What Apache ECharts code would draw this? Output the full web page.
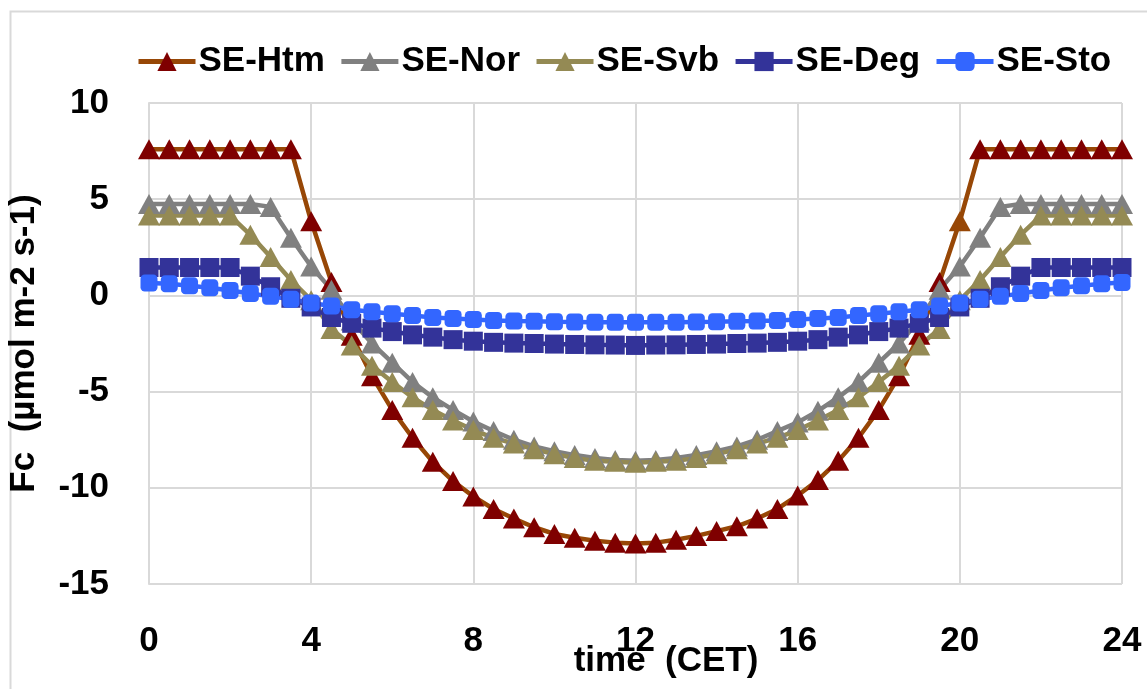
<!DOCTYPE html>
<html>
<head>
<meta charset="utf-8">
<script src="https://cdn.jsdelivr.net/npm/echarts@6/dist/echarts.min.js"></script>
<style>
html,body{margin:0;padding:0;background:#fff;}
#chart{width:1147px;height:689px;}
</style>
</head>
<body>
<div id="chart"></div>
<script>
// half-hourly time axis (CET)
var hours = [0,0.5,1,1.5,2,2.5,3,3.5,4,4.5,5,5.5,6,6.5,7,7.5,8,8.5,9,9.5,10,10.5,11,11.5,12,
             12.5,13,13.5,14,14.5,15,15.5,16,16.5,17,17.5,18,18.5,19,19.5,20,20.5,21,21.5,22,22.5,23,23.5,24];

var seHtm = [7.6,7.6,7.6,7.6,7.6,7.6,7.6,7.6,3.85,0.7,-2.1,-4.2,-5.95,-7.4,-8.65,-9.65,-10.45,-11.1,-11.6,-12.05,-12.4,-12.6,-12.75,-12.85,-12.9,
             -12.85,-12.7,-12.5,-12.25,-12.0,-11.6,-11.1,-10.4,-9.6,-8.6,-7.4,-5.95,-4.2,-2.05,0.7,3.85,7.6,7.6,7.6,7.6,7.6,7.6,7.6,7.6];

var seNor = [4.75,4.75,4.75,4.75,4.75,4.75,4.6,3.0,1.5,0.3,-1.3,-2.5,-3.5,-4.5,-5.3,-5.95,-6.55,-7.05,-7.5,-7.85,-8.1,-8.3,-8.45,-8.55,-8.6,
             -8.55,-8.45,-8.3,-8.1,-7.85,-7.5,-7.05,-6.6,-6.0,-5.3,-4.5,-3.5,-2.5,-1.3,0.3,1.5,3.0,4.6,4.75,4.75,4.75,4.75,4.75,4.75];

var seSvb = [4.15,4.15,4.15,4.15,4.15,3.15,2.0,0.8,-0.25,-1.75,-2.6,-3.65,-4.5,-5.3,-5.95,-6.5,-7.0,-7.4,-7.7,-8.0,-8.25,-8.45,-8.6,-8.65,-8.7,
             -8.65,-8.6,-8.45,-8.25,-8.0,-7.7,-7.4,-7.0,-6.5,-5.95,-5.3,-4.5,-3.65,-2.6,-1.75,-0.25,0.8,2.0,3.15,4.15,4.15,4.15,4.15,4.15];

var seDeg = [1.45,1.45,1.45,1.45,1.45,1.0,0.45,-0.15,-0.6,-1.15,-1.45,-1.7,-1.88,-2.05,-2.17,-2.3,-2.38,-2.44,-2.48,-2.5,-2.53,-2.55,-2.57,-2.58,-2.6,
             -2.58,-2.57,-2.55,-2.53,-2.5,-2.48,-2.44,-2.38,-2.3,-2.17,-2.05,-1.88,-1.7,-1.45,-1.15,-0.6,-0.15,0.45,1.0,1.45,1.45,1.45,1.45,1.45];

var seSto = [0.65,0.6,0.5,0.4,0.25,0.1,-0.05,-0.2,-0.4,-0.55,-0.75,-0.85,-0.95,-1.05,-1.15,-1.2,-1.25,-1.3,-1.33,-1.35,-1.37,-1.38,-1.4,-1.4,-1.4,
             -1.4,-1.4,-1.38,-1.37,-1.35,-1.33,-1.3,-1.25,-1.2,-1.15,-1.05,-0.95,-0.85,-0.75,-0.55,-0.4,-0.2,-0.05,0.1,0.25,0.4,0.5,0.6,0.67];

var seriesNames = ['SE-Htm','SE-Nor','SE-Svb','SE-Deg','SE-Sto'];
var xTicks = ['0','4','8','12','16','20','24'];

function pairs(vals){ return hours.map(function(h,i){ return [h, vals[i]]; }); }

var FONT = '"Liberation Sans", Arial, sans-serif';

var htmData = pairs(seHtm).map(function(p){
  if (p[0] === 20) return {value: p, itemStyle: {color: '#974706'}};
  return p;
});

var chart = echarts.init(document.getElementById('chart'), null, {renderer:'canvas'});
chart.setOption({
  backgroundColor: '#ffffff',
  animation: false,
  graphic: [{
    type: 'rect', left: 8, top: 9, silent: true, z: -10,
    shape: {x: 0, y: 0, width: 1160, height: 700},
    style: {fill: 'none', stroke: '#d9d9d9', lineWidth: 2}
  }],
  legend: {
    left: 136, top: 44, width: 1011, padding: 0,
    itemWidth: 57, itemHeight: 24, itemGap: 14,
    lineStyle: {width: 5},
    textStyle: {fontFamily: FONT, fontWeight: 'bold', fontSize: 35, color: '#000', padding: [0,0,0,-2]},
    data: seriesNames
  },
  grid: {left: 149, right: 25, top: 103, bottom: 105, outerBoundsMode: 'none', containLabel: false},
  xAxis: {
    type: 'value', min: 0, max: 24, interval: 4,
    name: 'time  (CET)', nameLocation: 'middle', nameGap: 60, nameMoveOverlap: false,
    nameTextStyle: {fontFamily: FONT, fontWeight: 'bold', fontSize: 35, color: '#000', padding: [0,0,0,61]},
    axisLine: {show: true, lineStyle: {color: '#d9d9d9', width: 2}},
    axisTick: {show: false},
    splitLine: {show: true, lineStyle: {color: '#d9d9d9', width: 2}},
    axisLabel: {
      margin: 40, fontFamily: FONT, fontWeight: 'bold', fontSize: 35, color: '#000',
      formatter: function(v){ var s = String(v); return xTicks.indexOf(s) >= 0 ? s : ''; }
    }
  },
  yAxis: {
    type: 'value', min: -15, max: 10, interval: 5,
    name: 'Fc  (µmol m-2 s-1)', nameLocation: 'middle', nameGap: 107, nameMoveOverlap: false,
    nameTextStyle: {fontFamily: FONT, fontWeight: 'bold', fontSize: 35, color: '#000'},
    axisLine: {show: true, lineStyle: {color: '#d9d9d9', width: 2}},
    axisTick: {show: false},
    splitLine: {show: true, lineStyle: {color: '#d9d9d9', width: 2}},
    axisLabel: {margin: 40, fontFamily: FONT, fontWeight: 'bold', fontSize: 35, color: '#000'}
  },
  series: [
    {name: 'SE-Htm', type: 'line', data: htmData, symbol: 'triangle', symbolSize: [22,20],
     lineStyle: {color: '#974706', width: 4.5}, itemStyle: {color: '#7f0000'}},
    {name: 'SE-Nor', type: 'line', data: pairs(seNor), symbol: 'triangle', symbolSize: [22,20],
     lineStyle: {color: '#808080', width: 4.5}, itemStyle: {color: '#808080'}},
    {name: 'SE-Svb', type: 'line', data: pairs(seSvb), symbol: 'triangle', symbolSize: [22,20],
     lineStyle: {color: '#948a54', width: 4.5}, itemStyle: {color: '#948a54'}},
    {name: 'SE-Deg', type: 'line', data: pairs(seDeg), symbol: 'rect', symbolSize: 19,
     lineStyle: {color: '#333399', width: 4.5}, itemStyle: {color: '#333399'}},
    {name: 'SE-Sto', type: 'line', data: pairs(seSto), symbol: 'roundRect', symbolSize: 17,
     lineStyle: {color: '#3366ff', width: 4.5}, itemStyle: {color: '#3366ff'}}
  ]
});
</script>
</body>
</html>
